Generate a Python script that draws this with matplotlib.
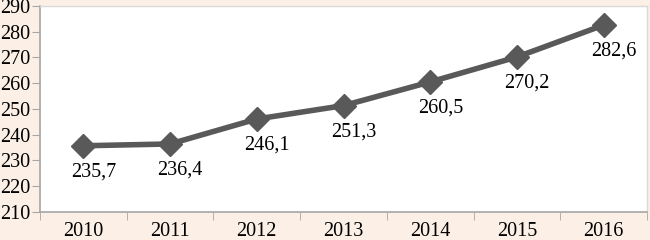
import matplotlib
matplotlib.use('Agg')
import matplotlib.pyplot as plt
from matplotlib.ticker import FixedLocator, NullFormatter

years = ['2010', '2011', '2012', '2013', '2014', '2015', '2016']
values = [235.7, 236.4, 246.1, 251.3, 260.5, 270.2, 282.6]
labels = ['235,7', '236,4', '246,1', '251,3', '260,5', '270,2', '282,6']

bg = '#fcf0e6'
line_color = '#595959'
axis_color = '#a6a6a6'

plt.rcParams['font.family'] = ['Liberation Serif', 'DejaVu Serif']

fig = plt.figure(figsize=(6.5, 2.4), dpi=100, facecolor=bg)
ax = fig.add_axes([0.0615, 0.117, 0.934, 0.858])
ax.set_facecolor('white')

x = list(range(len(years)))
ax.plot(x, values, color=line_color, linewidth=4, marker='D', markersize=12,
        markerfacecolor=line_color, markeredgecolor=line_color, zorder=3)

for xi, v, lab in zip(x, values, labels):
    ax.annotate(lab, xy=(xi, v), xytext=(10, -26), textcoords='offset pixels',
                ha='center', va='center', fontsize=14.5, color='black')

ax.set_xlim(-0.5, len(years) - 0.5)
ax.set_ylim(210, 290)
ax.set_yticks(range(210, 291, 10))
ax.set_xticks(x)
ax.set_xticklabels(years)
ax.xaxis.set_minor_locator(FixedLocator([i - 0.5 for i in range(len(years) + 1)]))
ax.xaxis.set_minor_formatter(NullFormatter())
ax.tick_params(axis='x', which='major', length=0, labelsize=14.5, pad=7)
ax.tick_params(axis='x', which='minor', length=6, color=axis_color, direction='out')
ax.tick_params(axis='y', length=6, color=axis_color, labelsize=14.5, pad=1)

for side in ['left', 'bottom']:
    ax.spines[side].set_color(axis_color)
    ax.spines[side].set_linewidth(1.2)
for side in ['top', 'right']:
    ax.spines[side].set_color('#d9d9d9')
    ax.spines[side].set_linewidth(1)

fig.savefig('out.png', dpi=100, facecolor=bg)
